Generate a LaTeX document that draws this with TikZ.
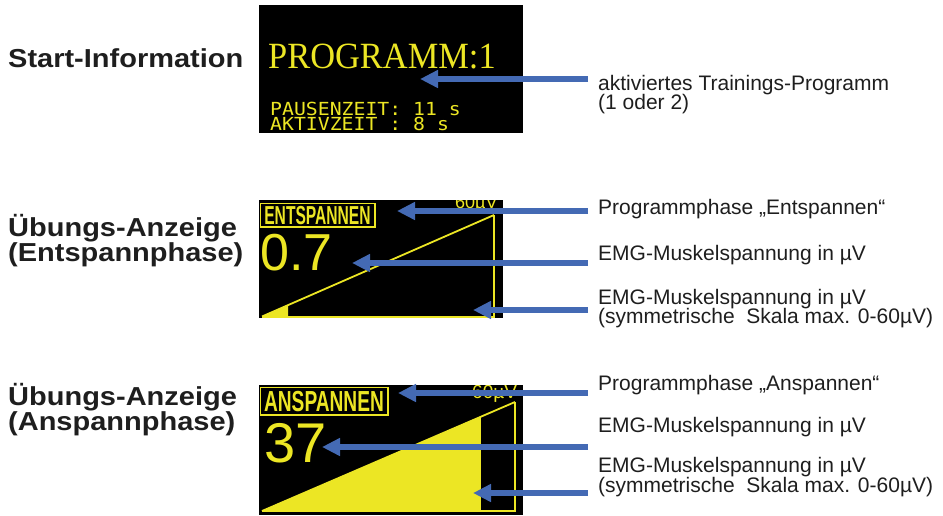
\documentclass[tikz,border=0pt]{standalone}
\usepackage{fontspec}
\setmainfont{Liberation Sans}
\newfontfamily\serifscreen{Liberation Serif}
\newfontfamily\monoscreen{DejaVu Sans Mono}
\usetikzlibrary{arrows.meta}

\definecolor{oled}{RGB}{236,230,36}
\definecolor{pointer}{RGB}{68,106,180}
\definecolor{ink}{RGB}{30,30,30}

\newcommand{\headtext}[1]{\scalebox{1.115}[1]{#1}}
\newcommand{\oledrow}[1]{\hbox{\scalebox{1.1}[1]{#1}}}

\tikzset{
  screen/.style={fill=black, draw=none},
  callout/.style={draw=pointer, line width=5.5pt, -{Triangle[length=18pt,width=17pt]}},
  heading/.style={anchor=base west, inner sep=0pt, text=ink,
                  font=\fontsize{26}{26}\selectfont\bfseries},
  note/.style={anchor=base west, inner sep=0pt, text=ink,
               font=\fontsize{21}{21}\selectfont},
  oledline/.style={draw=oled, line width=1.8pt},
  oledtext/.style={inner sep=0pt, text=oled},
}

\begin{document}
\begin{tikzpicture}[x=1pt, y=-1pt]
\useasboundingbox (0,0) rectangle (943,515);

% ---------- headings on the left ----------
\node[heading] (h1)  at (8,67)  {\headtext{Start-Information}};
\node[heading] (h2a) at (8,236) {\headtext{Übungs-Anzeige}};
\node[heading] (h2b) at (8,261) {\headtext{(Entspannphase)}};
\node[heading] (h3a) at (8,405) {\headtext{Übungs-Anzeige}};
\node[heading] (h3b) at (8,430) {\headtext{(Anspannphase)}};

% ---------- display 1: start information ----------
\fill[screen] (259,5) rectangle (523,133);
\node[oledtext, anchor=base west] (prog) at (268,68)
  {\serifscreen\fontsize{37}{37}\selectfont\scalebox{0.93}[1]{PROGRAMM:1}};
% two tightly stacked timing rows; the box's baseline is the lower row
\node[oledtext, anchor=base west] (timing) at (270,130)
  {\monoscreen\fontsize{18}{15}\selectfont
   \vbox{\baselineskip=15pt\lineskiplimit=-20pt
     \oledrow{PAUSENZEIT: 11 s}
     \oledrow{AKTIVZEIT : 8 s}}};

% ---------- display 2: relaxation phase ----------
\fill[screen] (259,200) rectangle (503,318);
\begin{scope}
  \clip (259,200) rectangle (503,318);
  \node[oledtext, anchor=base west] (scaleB) at (455,208)
    {\fontsize{18}{18}\selectfont 60µV};
\end{scope}
\draw[oled, line width=1.5pt] (260.5,203.5) rectangle (375,227);
\node[oledtext] (phaseB) at (317.5,215.5)
  {\fontsize{26}{26}\selectfont\bfseries\scalebox{0.6}[1]{ENTSPANNEN}};
\node[oledtext, anchor=base west] (valB) at (260,270)
  {\fontsize{52}{52}\selectfont 0.7};
\fill[oled] (262,317) -- (288,317) -- (288,305.5) -- cycle;
\draw[oledline] (262,316.5) -- (494,215);
\draw[oledline] (262,317) -- (494,317) -- (494,215);

% ---------- display 3: tension phase ----------
\fill[screen] (259,385) rectangle (523,515);
\begin{scope}
  \clip (259,385) rectangle (523,515);
  \node[oledtext, anchor=base west] (scaleC) at (472,398)
    {\fontsize{19}{19}\selectfont 60µV};
\end{scope}
\draw[oled, line width=1.5pt] (260.5,387.5) rectangle (388,415);
\node[oledtext] (phaseC) at (324,401.5)
  {\fontsize{29}{29}\selectfont\bfseries\scalebox{0.66}[1]{ANSPANNEN}};
\node[oledtext, anchor=base west] (valC) at (264,462)
  {\fontsize{56}{56}\selectfont 37};
\fill[oled] (262,511) -- (480,511) -- (480,417) -- cycle;
\draw[oledline] (262,511) -- (515,402);
\draw[oledline] (480,417) -- (480,511);
\draw[oledline] (262,511) -- (515,511) -- (515,402);

% ---------- notes on the right ----------
\node[note] (nA1) at (598,90)  {aktiviertes Trainings-Programm};
\node[note] (nA2) at (598,109) {(1 oder 2)};

\node[note] (nB1) at (598,214) {Programmphase „Entspannen“};
\node[note] (nB2) at (598,260) {EMG-Muskelspannung in µV};
\node[note] (nB3) at (598,304) {EMG-Muskelspannung in µV};
\node[note] (nB4) at (598,323) {(symmetrische\ \ Skala max. 0-60µV)};

\node[note] (nC1) at (598,390) {Programmphase „Anspannen“};
\node[note] (nC2) at (598,432) {EMG-Muskelspannung in µV};
\node[note] (nC3) at (598,472) {EMG-Muskelspannung in µV};
\node[note] (nC4) at (598,492) {(symmetrische\ \ Skala max. 0-60µV)};

% ---------- pointer arrows ----------
\coordinate (sA1) at (588,79);  \coordinate (tA1) at (420,79);
\coordinate (sB1) at (588,211); \coordinate (tB1) at (397,211);
\coordinate (sB2) at (588,263); \coordinate (tB2) at (352,263);
\coordinate (sB3) at (588,310); \coordinate (tB3) at (473,310);
\coordinate (sC1) at (588,393); \coordinate (tC1) at (398,393);
\coordinate (sC2) at (588,447); \coordinate (tC2) at (322,447);
\coordinate (sC3) at (588,493); \coordinate (tC3) at (473,493);

\foreach \p in {A1,B1,B2,B3,C1,C2,C3}
  \draw[callout] (s\p) -- (t\p);
\end{tikzpicture}
\end{document}
